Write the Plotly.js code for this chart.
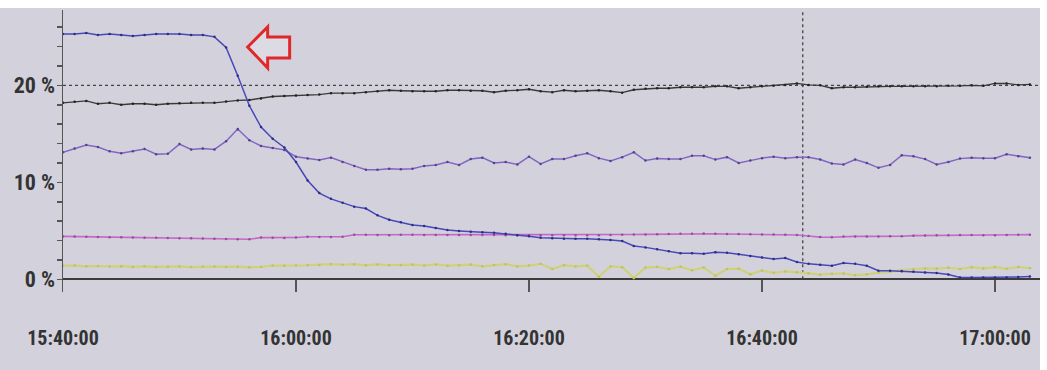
<!DOCTYPE html>
<html>
<head>
<meta charset="utf-8">
<script src="https://cdn.plot.ly/plotly-3.0.1.min.js"></script>
<style>
  html, body { margin: 0; padding: 0; background: #ffffff; }
  #chart { width: 1040px; height: 362px; margin-top: 8px; }
</style>
</head>
<body>
<div id="chart"></div>
<script>
// Minutes after 15:40:00 (one sample per minute)
const minutes = [0,1,2,3,4,5,6,7,8,9,10,11,12,13,14,15,16,17,18,19,20,21,22,23,24,25,26,27,28,29,30,31,32,33,34,35,36,37,38,39,40,41,42,43,44,45,46,47,48,49,50,51,52,53,54,55,56,57,58,59,60,61,62,63,64,65,66,67,68,69,70,71,72,73,74,75,76,77,78,79,80,81,82,83];

// Series values in %
const blueSeries = [25.3,25.3,25.4,25.2,25.3,25.2,25.1,25.2,25.3,25.3,25.3,25.2,25.2,25.0,23.9,21.0,17.9,15.7,14.5,13.6,12.1,10.2,8.9,8.3,7.9,7.5,7.3,6.6,6.15,5.9,5.6,5.5,5.3,5.1,5.0,4.9,4.85,4.8,4.7,4.55,4.45,4.3,4.25,4.2,4.2,4.2,4.15,4.05,3.95,3.45,3.3,3.1,2.9,2.7,2.7,2.65,2.8,2.75,2.6,2.4,2.25,2.1,2.2,1.8,1.6,1.5,1.4,1.7,1.6,1.4,0.9,0.9,0.85,0.8,0.7,0.65,0.5,0.2,0.2,0.2,0.2,0.2,0.25,0.3];
const blackSeries = [18.2,18.3,18.4,18.1,18.2,18.0,18.1,18.1,18.0,18.1,18.15,18.2,18.2,18.2,18.35,18.45,18.5,18.65,18.85,18.9,18.95,19.0,19.05,19.2,19.2,19.2,19.3,19.4,19.5,19.45,19.4,19.4,19.4,19.5,19.5,19.45,19.45,19.3,19.45,19.5,19.6,19.4,19.3,19.5,19.4,19.45,19.5,19.4,19.25,19.55,19.65,19.7,19.7,19.8,19.8,19.8,19.9,19.9,19.7,19.8,19.9,19.95,20.05,20.2,20.05,20.0,19.7,19.8,19.8,19.85,19.9,19.9,19.9,19.9,19.9,19.9,19.95,19.95,20.0,19.95,20.2,20.2,20.05,20.1];
const purpleSeries = [13.1,13.5,13.85,13.65,13.2,13.0,13.2,13.45,12.9,12.95,13.95,13.4,13.5,13.4,14.25,15.5,14.35,13.75,13.55,13.35,12.65,12.45,12.3,12.55,12.1,11.7,11.3,11.3,11.4,11.35,11.4,11.7,11.8,12.1,11.8,12.4,12.55,12.0,12.1,11.85,12.65,11.9,12.4,12.4,12.75,13.0,12.5,12.2,12.6,13.1,12.25,12.45,12.4,12.4,12.75,12.75,12.35,12.6,12.0,12.25,12.5,12.65,12.5,12.6,12.6,12.35,11.95,11.85,12.35,12.0,11.5,11.8,12.8,12.7,12.4,11.85,12.1,12.45,12.55,12.5,12.5,12.9,12.7,12.55];
const magentaSeries = [4.43,4.41,4.39,4.37,4.35,4.34,4.32,4.3,4.29,4.27,4.25,4.24,4.22,4.19,4.17,4.14,4.14,4.31,4.29,4.27,4.32,4.4,4.38,4.36,4.39,4.6,4.6,4.58,4.56,4.59,4.59,4.58,4.58,4.58,4.58,4.57,4.57,4.58,4.56,4.56,4.56,4.56,4.56,4.56,4.56,4.55,4.55,4.58,4.6,4.62,4.64,4.66,4.68,4.7,4.71,4.72,4.7,4.68,4.67,4.65,4.63,4.62,4.6,4.58,4.48,4.36,4.34,4.42,4.43,4.43,4.43,4.44,4.44,4.51,4.52,4.54,4.55,4.58,4.57,4.56,4.55,4.57,4.6,4.61];
const yellowSeries = [1.41,1.42,1.35,1.38,1.33,1.36,1.29,1.35,1.28,1.31,1.34,1.27,1.32,1.32,1.28,1.31,1.24,1.29,1.42,1.4,1.43,1.46,1.49,1.58,1.51,1.57,1.45,1.54,1.46,1.47,1.53,1.43,1.54,1.41,1.44,1.53,1.35,1.48,1.57,1.34,1.42,1.61,1.07,1.46,1.34,1.42,0.27,1.33,1.26,0.15,1.22,1.3,1.07,1.31,0.93,1.22,0.37,1.07,1.1,0.52,0.91,0.68,0.81,0.74,0.62,0.49,0.58,0.61,0.43,0.52,0.7,0.78,0.97,1.05,1.13,1.11,1.2,1.07,1.26,1.13,1.27,1.09,1.28,1.15];

// Axis ticks
const xTickTimes = ['15:40:00','16:00:00','16:20:00','16:40:00','17:00:00'];
const yTickValues = [0,2,4,6,8,10,12,14,16,18,20,22,24,26];
const yTickLabels = ['0 %','','','','','10 %','','','','','20 %','','',''];

// Reference markers on the recorder screen
const refLevel = 20;
const cursorTime = '16:43:30';
const day = '2000-01-01 ';

function stamp(m) {
  const total = 40 + m;
  const h = 15 + Math.floor(total / 60);
  const mm = total % 60;
  return day + h + ':' + String(mm).padStart(2, '0') + ':00';
}
const times = minutes.map(stamp);

const fontFam = '"Roboto Condensed", "Open Sans", sans-serif';

function trace(y, lineColor, markColor, width) {
  return {
    x: times, y: y, type: 'scatter', mode: 'lines+markers',
    line: { color: lineColor, width: width },
    marker: { color: markColor, size: 2.5 },
    hoverinfo: 'skip'
  };
}

const data = [
  trace(yellowSeries, '#cfd279', '#bfc262', 2.2),
  trace(magentaSeries, '#c469c8', '#9c4aa0', 1.6),
  trace(purpleSeries, '#8166c4', '#55418e', 1.5),
  trace(blackSeries, '#3a3a3a', '#222222', 1.4),
  trace(blueSeries, '#4848b8', '#2d2d86', 1.5)
];

const layout = {
  width: 1040, height: 362,
  margin: { l: 63, r: 0, t: 2, b: 78 },
  paper_bgcolor: '#d3d2dc',
  plot_bgcolor: '#d3d2dc',
  showlegend: false,
  xaxis: {
    type: 'date',
    range: [day + '15:40:00', day + '17:03:52'],
    tickvals: xTickTimes.map(t => day + t),
    ticktext: xTickTimes,
    ticks: 'inside', ticklen: 12, tickwidth: 1.5, tickcolor: '#555',
    showgrid: false, showline: false, zeroline: false,
    ticklabelstandoff: 32,
    tickfont: { family: fontFam, size: 20, color: '#333', weight: 'bold' }
  },
  yaxis: {
    range: [-1.3, 27.77],
    tickvals: yTickValues, ticktext: yTickLabels,
    ticks: 'outside', ticklen: 5, tickwidth: 1.5, tickcolor: '#555',
    showline: true, linecolor: '#555', linewidth: 1.5,
    zeroline: true, zerolinecolor: '#3c3c3c', zerolinewidth: 2,
    showgrid: false,
    ticklabelstandoff: -3,
    tickfont: { family: fontFam, size: 22, color: '#333', weight: 'bold' }
  },
  shapes: [
    { type: 'line', xref: 'paper', x0: 0, x1: 1, yref: 'y', y0: refLevel, y1: refLevel,
      line: { color: '#444', width: 1.3, dash: 'dot' }, layer: 'below' },
    { type: 'line', xref: 'x', x0: day + cursorTime, x1: day + cursorTime, yref: 'paper', y0: 0.045, y1: 1,
      line: { color: '#444', width: 1.3, dash: 'dot' }, layer: 'below' },
    { type: 'path', xref: 'paper', yref: 'paper', xsizemode: 'pixel', ysizemode: 'pixel',
      xanchor: 0.189, yanchor: 0.869,
      path: 'M0,0 L20,20 L20,10 L42,10 L42,-11 L20,-11 L20,-21 Z',
      line: { color: '#e0282c', width: 3 }, fillcolor: '#dcdbe4' }
  ]
};

Plotly.newPlot('chart', data, layout, { displayModeBar: false, staticPlot: true });
</script>
</body>
</html>
